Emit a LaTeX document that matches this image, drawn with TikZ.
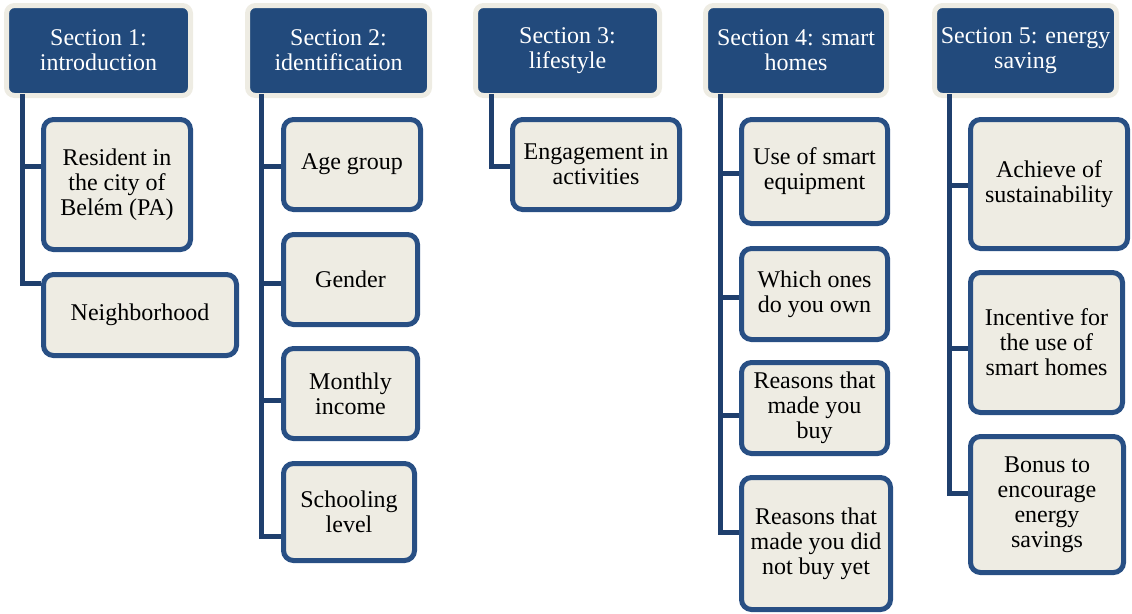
\documentclass[tikz,border=0pt]{standalone}
\usepackage{fontspec}
\setmainfont{LiberationSerif}[Extension=.ttf, UprightFont=*-Regular, BoldFont=*-Bold, ItalicFont=*-Italic]
\definecolor{hdrblue}{HTML}{224A7C}
\definecolor{cream}{HTML}{EEECE3}
\definecolor{boxedge}{HTML}{284F84}
\definecolor{connblue}{HTML}{1F3F6D}
\tikzset{
  hdrbox/.style={draw=cream, fill=hdrblue, line width=5pt, rounded corners=8pt,
    text=white, align=center, inner sep=0pt, font=\fontsize{24}{25}\selectfont},
  kidbox/.style={draw=boxedge, fill=cream, line width=5pt, rounded corners=10pt,
    text=black, align=center, inner sep=0pt, font=\fontsize{24}{25}\selectfont},
  conn/.style={draw=connblue, line width=5pt}
}
% #1 style, #2 name, #3 L, #4 T, #5 R, #6 B, #7 text
\newcommand\mybox[7]{%
  \node[#1, minimum width={#5-#3-5}, minimum height={#6-#4-5}]
    (#2) at ({(#3+#5)/2},{(#4+#6)/2}) {#7};}
\begin{document}
\begin{tikzpicture}[x=1pt,y=-1pt]
\useasboundingbox (0,0) rectangle (1132,613);
% headers
\mybox{hdrbox}{h1}{4}{3}{193}{98}{Section 1:\\introduction}
\mybox{hdrbox}{h2}{245}{3}{432}{98}{Section 2:\\identification}
\mybox{hdrbox}{h3}{473}{3}{662}{98}{Section 3:\\lifestyle}
\mybox{hdrbox}{h4}{703}{3}{889}{98}{Section 4: smart\\homes}
\mybox{hdrbox}{h5}{932}{3}{1119}{98}{Section 5: energy\\saving}
% vertical line tops
\coordinate (v1) at ([xshift=18.5pt,yshift=4pt]h1.south west);
\coordinate (v2) at ([xshift=16.5pt,yshift=4pt]h2.south west);
\coordinate (v3) at ([xshift=18.5pt,yshift=4pt]h3.south west);
\coordinate (v4) at ([xshift=17.5pt,yshift=4pt]h4.south west);
\coordinate (v5) at ([xshift=17.5pt,yshift=4pt]h5.south west);
% child boxes
\mybox{kidbox}{c11}{41}{117}{193}{252}{Resident in\\the city of\\Belém (PA)}
\mybox{kidbox}{c12}{41}{272}{239}{358}{Neighborhood}
\mybox{kidbox}{c21}{281}{117}{423}{212}{Age group}
\mybox{kidbox}{c22}{281}{232}{420}{327}{Gender}
\mybox{kidbox}{c23}{281}{346}{420}{441}{Monthly\\income}
\mybox{kidbox}{c24}{281}{461}{417}{563}{Schooling\\level}
\mybox{kidbox}{c31}{510}{117}{682}{212}{Engagement in\\activities}
\mybox{kidbox}{c41}{739}{117}{890}{226}{Use of smart\\equipment}
\mybox{kidbox}{c42}{739}{246}{890}{342}{Which ones\\do you own}
\mybox{kidbox}{c43}{739}{360}{890}{456}{Reasons that\\made you\\buy}
\mybox{kidbox}{c44}{739}{475}{893}{612}{Reasons that\\made you did\\not buy yet}
\mybox{kidbox}{c51}{968}{117}{1130}{251}{Achieve of\\sustainability}
\mybox{kidbox}{c52}{968}{270}{1125}{415}{Incentive for\\the use of\\smart homes}
\mybox{kidbox}{c53}{968}{434}{1126}{575}{Bonus to\\encourage\\energy\\savings}
% connectors
\begin{scope}[conn]
\draw (v1) |- ([yshift=18.5pt]c11.west);
\draw (v1) |- ([yshift=32pt]c12.west);
\draw (v2) |- ([yshift=-1.5pt]c21.west);
\draw (v2) |- ([yshift=-3.5pt]c22.west);
\draw (v2) |- ([yshift=-6.5pt]c23.west);
\draw (v2) |- ([yshift=-24pt]c24.west);
\draw (v3) |- ([yshift=-1.5pt]c31.west);
\draw (v4) |- ([yshift=-1.5pt]c41.west);
\draw (v4) |- ([yshift=-3pt]c42.west);
\draw (v4) |- ([yshift=-7pt]c43.west);
\draw (v4) |- ([yshift=11pt]c44.west);
\draw (v5) |- ([yshift=-1pt]c51.west);
\draw (v5) |- ([yshift=-5.5pt]c52.west);
\draw (v5) |- ([yshift=11.5pt]c53.west);
\end{scope}
\end{tikzpicture}
\end{document}
